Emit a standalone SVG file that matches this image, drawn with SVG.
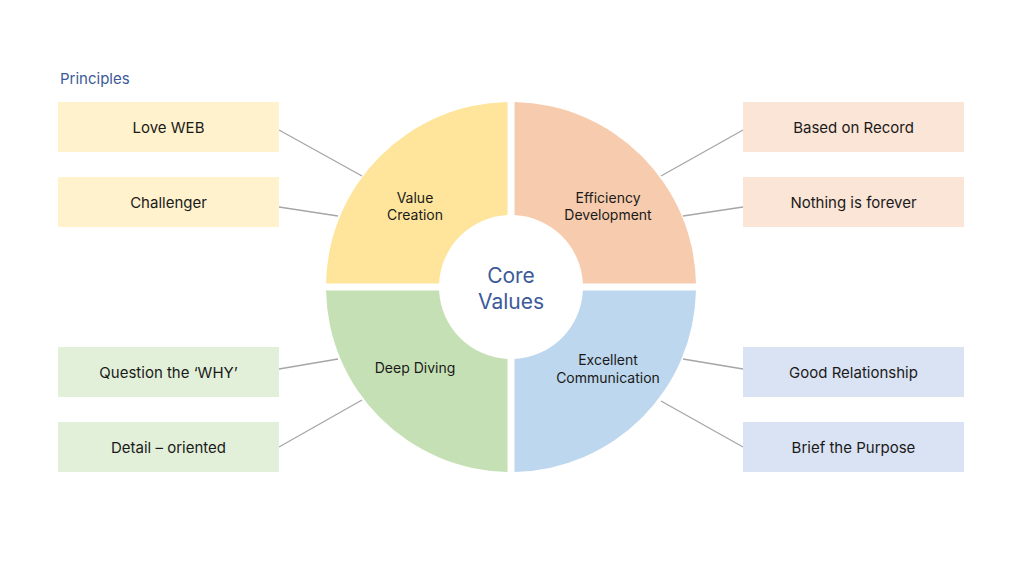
<svg xmlns="http://www.w3.org/2000/svg" width="1022" height="575" viewBox="0 0 1022 575">
<style>
.box{stroke:none}
.bt{font-family:Inter,"Noto Sans","Liberation Sans",sans-serif;font-size:15px;fill:#1a1a1a;text-anchor:middle}
.qt{font-family:Inter,"Noto Sans","Liberation Sans",sans-serif;font-size:14px;fill:#1a1a1a;text-anchor:middle}
.ct{font-family:Inter,"Noto Sans","Liberation Sans",sans-serif;font-size:21px;fill:#3c5a99;text-anchor:middle}
.conn line{stroke:#a6a6a6;stroke-width:1.3}
</style>
<rect width="1022" height="575" fill="#ffffff"/>
<text x="60" y="84" style="font-family:Inter,'Noto Sans','Liberation Sans',sans-serif;font-size:15px;fill:#3c5a99">Principles</text>
<g id="connectors" class="conn">
<line x1="279" y1="130" x2="362" y2="176"/>
<line x1="279" y1="207" x2="338" y2="216"/>
<line x1="279" y1="369" x2="338" y2="359"/>
<line x1="279" y1="447" x2="362" y2="400"/>
<line x1="743" y1="130" x2="661" y2="176"/>
<line x1="743" y1="207" x2="683" y2="216"/>
<line x1="743" y1="369" x2="683" y2="359"/>
<line x1="743" y1="447" x2="661" y2="401"/>
</g>
<g id="q-value-creation">
<path d="M507.5,102.03 V215.09 A72,72 0 0 0 439.09,283.5 H326.03 A185,185 0 0 1 507.5,102.03 Z" fill="#fee59b"/>
<text class="qt" x="415" y="202.5">Value</text>
<text class="qt" x="415" y="220">Creation</text>
</g>
<g id="q-efficiency">
<path d="M514.5,102.03 A185,185 0 0 1 695.97,283.5 H582.91 A72,72 0 0 0 514.5,215.09 Z" fill="#f7cbad"/>
<text class="qt" x="608" y="202.5">Efficiency</text>
<text class="qt" x="608" y="220">Development</text>
</g>
<g id="q-communication">
<path d="M695.97,290.5 A185,185 0 0 1 514.5,471.97 V358.91 A72,72 0 0 0 582.91,290.5 Z" fill="#bdd7ee"/>
<text class="qt" x="608" y="365">Excellent</text>
<text class="qt" x="608" y="383">Communication</text>
</g>
<g id="q-deep-diving">
<path d="M507.5,471.97 A185,185 0 0 1 326.03,290.5 H439.09 A72,72 0 0 0 507.5,358.91 Z" fill="#c5e0b4"/>
<text class="qt" x="415" y="373">Deep Diving</text>
</g>
<g id="core">
<text class="ct" x="511" y="283">Core</text>
<text class="ct" x="511" y="309">Values</text>
</g>
<g id="love-web"><rect class="box" x="58" y="102" width="221" height="50" fill="#fff2cc"/><text class="bt" x="168.5" y="132.5">Love WEB</text></g>
<g id="challenger"><rect class="box" x="58" y="177" width="221" height="50" fill="#fff2cc"/><text class="bt" x="168.5" y="207.5">Challenger</text></g>
<g id="question-why"><rect class="box" x="58" y="347" width="221" height="50" fill="#e2f0d9"/><text class="bt" x="168.5" y="377.5">Question the ‘WHY’</text></g>
<g id="detail-oriented"><rect class="box" x="58" y="422" width="221" height="50" fill="#e2f0d9"/><text class="bt" x="168.5" y="452.5">Detail – oriented</text></g>
<g id="based-on-record"><rect class="box" x="743" y="102" width="221" height="50" fill="#fbe5d6"/><text class="bt" x="853.5" y="132.5">Based on Record</text></g>
<g id="nothing-forever"><rect class="box" x="743" y="177" width="221" height="50" fill="#fbe5d6"/><text class="bt" x="853.5" y="207.5">Nothing is forever</text></g>
<g id="good-relationship"><rect class="box" x="743" y="347" width="221" height="50" fill="#dae3f3"/><text class="bt" x="853.5" y="377.5">Good Relationship</text></g>
<g id="brief-purpose"><rect class="box" x="743" y="422" width="221" height="50" fill="#dae3f3"/><text class="bt" x="853.5" y="452.5">Brief the Purpose</text></g>
</svg>
